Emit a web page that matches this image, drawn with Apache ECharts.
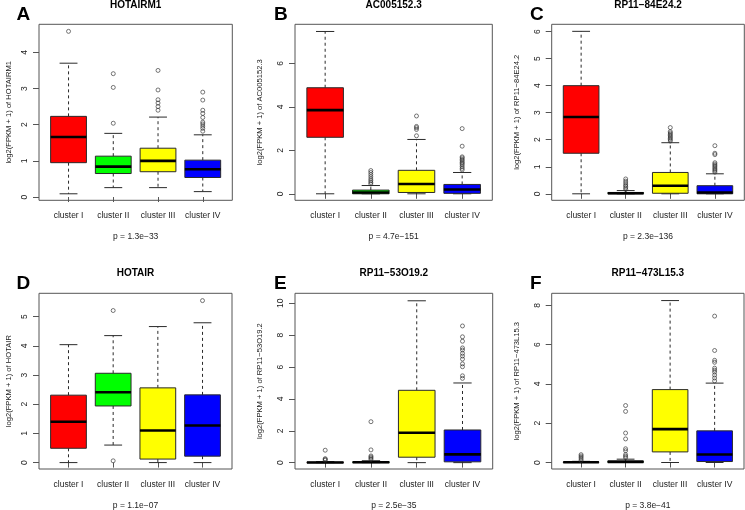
<!DOCTYPE html>
<html><head><meta charset="utf-8">
<script src="https://cdn.jsdelivr.net/npm/echarts@6/dist/echarts.min.js"></script>
<style>html,body{margin:0;padding:0;background:#fff}#c{width:745px;height:510px}</style>
</head><body><div id="c"></div>
<script>
// ---- data ----
const categories = ['cluster I', 'cluster II', 'cluster III', 'cluster IV'];
const geneNames = ['HOTAIRM1', 'AC005152.3', 'RP11\u221284E24.2', 'HOTAIR', 'RP11\u221253O19.2', 'RP11\u2212473L15.3'];
const panelLetters = ['A', 'B', 'C', 'D', 'E', 'F'];
const pValues = ['p = 1.3e\u221233', 'p = 4.7e\u2212151', 'p = 2.3e\u2212136', 'p = 1.1e\u221207', 'p = 2.5e\u221235', 'p = 3.8e\u221241'];

// box stats per cluster: [lower whisker, Q1, median, Q3, upper whisker]
const hotairm1Stats = [[0.09, 0.95, 1.66, 2.23, 3.70], [0.26, 0.65, 0.84, 1.13, 1.76], [0.26, 0.70, 1.00, 1.35, 2.21], [0.15, 0.54, 0.77, 1.02, 1.72]];
const hotairm1Outliers = [[4.58], [2.04, 3.03, 3.41], [2.40, 2.50, 2.60, 2.69, 2.96, 3.50], [1.82, 1.90, 1.96, 2.02, 2.07, 2.20, 2.31, 2.40, 2.68, 2.90]];

const ac005152Stats = [[0, 2.60, 3.85, 4.88, 7.47], [0, 0, 0.06, 0.17, 0.38], [0, 0.06, 0.45, 1.08, 2.50], [0, 0.02, 0.20, 0.43, 0.98]];
const ac005152Outliers = [[], [0.45, 0.52, 0.60, 0.68, 0.78, 0.88, 0.98, 1.07], [2.67, 2.96, 3.04, 3.10, 3.58], [1.10, 1.17, 1.25, 1.33, 1.40, 1.45, 1.52, 1.58, 1.65, 1.70, 2.19, 3.00]];

const rp1184e24Stats = [[0, 1.50, 2.84, 4.00, 6.01], [0, 0, 0.02, 0.05, 0.12], [0, 0.02, 0.30, 0.79, 1.89], [0, 0, 0.05, 0.30, 0.74]];
const rp1184e24Outliers = [[], [0.16, 0.22, 0.28, 0.33, 0.40, 0.47, 0.55], [1.95, 2.00, 2.05, 2.10, 2.15, 2.20, 2.25, 2.30, 2.45], [0.80, 0.85, 0.90, 0.95, 1.00, 1.05, 1.10, 1.15, 1.45, 1.50, 1.78]];

const hotairStats = [[0, 0.49, 1.40, 2.31, 4.04], [0.60, 1.94, 2.41, 3.06, 4.35], [0, 0.12, 1.10, 2.56, 4.66], [0, 0.22, 1.27, 2.32, 4.79]];
const hotairOutliers = [[], [0.06, 5.21], [], [5.55]];

const rp1153o19Stats = [[0, 0, 0.01, 0.03, 0.07], [0, 0, 0.02, 0.05, 0.12], [0, 0.34, 1.88, 4.54, 10.16], [0, 0.05, 0.52, 2.05, 5.00]];
const rp1153o19Outliers = [[0.15, 0.20, 0.25, 0.78], [0.20, 0.28, 0.35, 0.42, 0.80, 2.57], [], [5.29, 5.45, 6.02, 6.20, 6.50, 6.69, 6.86, 7.07, 7.20, 7.62, 7.90, 8.58]];

const rp11473l15Stats = [[0, 0, 0.01, 0.03, 0.06], [0, 0, 0.03, 0.08, 0.17], [0, 0.54, 1.70, 3.71, 8.24], [0, 0.05, 0.41, 1.61, 4.04]];
const rp11473l15Outliers = [[0.10, 0.18, 0.26, 0.33, 0.40], [0.25, 0.32, 0.40, 0.60, 0.70, 1.20, 1.50, 2.60, 2.90], [], [4.15, 4.30, 4.45, 4.60, 4.70, 4.80, 5.10, 5.20, 5.70, 7.45]];

// y tick labels per panel
const yTicksA = [0, 1, 2, 3, 4];
const yTicksB = [0, 2, 4, 6];
const yTicksC = [0, 1, 2, 3, 4, 5, 6];
const yTicksD = [0, 1, 2, 3, 4, 5];
const yTicksE = [0, 2, 4, 6, 8, 10];
const yTicksF = [0, 2, 4, 6, 8];
// y axis ranges (R extends data range by 4%)
const yRanges = [[-0.09, 4.775], [-0.30, 7.80], [-0.24, 6.27], [-0.22, 5.80], [-0.40, 10.63], [-0.33, 8.61]];

const allStats = [hotairm1Stats, ac005152Stats, rp1184e24Stats, hotairStats, rp1153o19Stats, rp11473l15Stats];
const allOutliers = [hotairm1Outliers, ac005152Outliers, rp1184e24Outliers, hotairOutliers, rp1153o19Outliers, rp11473l15Outliers];
const allTicks = [yTicksA, yTicksB, yTicksC, yTicksD, yTicksE, yTicksF];

// ---- layout / style ----
const FONT = '"Liberation Sans", Arial, Helvetica, sans-serif';
const boxColors = ['#FF0000', '#00FF00', '#FFFF00', '#0000FF'];
const frames = [
  {left: 39, top: 24.3, width: 193.3, height: 176},
  {left: 295, top: 24.3, width: 197.3, height: 176},
  {left: 551.7, top: 24.3, width: 192.6, height: 176},
  {left: 39, top: 293.3, width: 193, height: 175.7},
  {left: 295, top: 293.3, width: 197.7, height: 175.7},
  {left: 551.7, top: 293.3, width: 192.3, height: 175.7}
];
const nameGaps = [26, 31, 31, 26, 31, 31];

const chart = echarts.init(document.getElementById('c'), null, {renderer: 'canvas'});

function renderBox(params, api) {
  const x = api.value(0);
  const low = api.value(1), q1 = api.value(2), med = api.value(3), q3 = api.value(4), high = api.value(5);
  const ci = api.value(6);
  const cx = api.coord([x, 0])[0];
  const xl = api.coord([x - 0.4, 0])[0], xr = api.coord([x + 0.4, 0])[0];
  const cl = api.coord([x - 0.2, 0])[0], cr = api.coord([x + 0.2, 0])[0];
  const y = v => api.coord([x, v])[1];
  const stroke = '#2a2a2a';
  return {
    type: 'group',
    children: [
      {type: 'line', shape: {x1: cx, y1: y(q3), x2: cx, y2: y(high)}, style: {stroke: stroke, lineWidth: 1, lineDash: [3, 3]}},
      {type: 'line', shape: {x1: cx, y1: y(q1), x2: cx, y2: y(low)}, style: {stroke: stroke, lineWidth: 1, lineDash: [3, 3]}},
      {type: 'line', shape: {x1: cl, y1: y(high), x2: cr, y2: y(high)}, style: {stroke: stroke, lineWidth: 1}},
      {type: 'line', shape: {x1: cl, y1: y(low), x2: cr, y2: y(low)}, style: {stroke: stroke, lineWidth: 1}},
      {type: 'rect', shape: {x: xl, y: y(q3), width: xr - xl, height: Math.max(y(q1) - y(q3), 0.5)}, style: {fill: boxColors[ci], stroke: stroke, lineWidth: 1}},
      {type: 'line', shape: {x1: xl, y1: y(med), x2: xr, y2: y(med)}, style: {stroke: '#000', lineWidth: 2.6}}
    ]
  };
}

const grid = [], xAxis = [], yAxis = [], series = [], graphic = [];
frames.forEach((f, i) => {
  grid.push({left: f.left, top: f.top, width: f.width, height: f.height, show: true, borderColor: '#555', borderWidth: 1, backgroundColor: 'transparent'});
  xAxis.push({
    type: 'value', gridIndex: i, min: 0.34, max: 4.66,
    axisLine: {show: false}, splitLine: {show: false},
    axisTick: {show: true, customValues: [1, 2, 3, 4], length: 5, lineStyle: {color: '#555'}},
    axisLabel: {customValues: [1, 2, 3, 4], formatter: v => categories[Math.round(v) - 1], margin: 11,
      fontSize: 8.5, color: '#222', fontFamily: FONT}
  });
  yAxis.push({
    type: 'value', gridIndex: i, min: yRanges[i][0], max: yRanges[i][1],
    name: 'log2(FPKM + 1) of ' + geneNames[i], nameLocation: 'middle', nameGap: nameGaps[i], nameRotate: 90,
    nameTextStyle: {fontSize: 7.6, color: '#222', fontFamily: FONT},
    axisLine: {show: false}, splitLine: {show: false},
    axisTick: {show: true, customValues: allTicks[i], length: 6, lineStyle: {color: '#555'}},
    axisLabel: {customValues: allTicks[i], rotate: 90, margin: 10, fontSize: 8.5, color: '#222', fontFamily: FONT}
  });
  series.push({
    type: 'custom', xAxisIndex: i, yAxisIndex: i, renderItem: renderBox, silent: true,
    encode: {x: 0, y: [1, 2, 3, 4, 5]},
    data: allStats[i].map((s, k) => [k + 1].concat(s).concat([k]))
  });
  const pts = [];
  allOutliers[i].forEach((arr, k) => arr.forEach(v => pts.push([k + 1, v])));
  series.push({
    type: 'scatter', xAxisIndex: i, yAxisIndex: i, silent: true, symbol: 'circle', symbolSize: 4,
    itemStyle: {color: 'rgba(255,255,255,0)', borderColor: '#2a2a2a', borderWidth: 0.8},
    data: pts
  });
  const cxp = f.left + f.width / 2;
  const topRow = i < 3;
  graphic.push({type: 'text', x: cxp, y: topRow ? 5 : 273.5, silent: true,
    style: {text: geneNames[i], textAlign: 'center', textVerticalAlign: 'middle', font: 'bold 10px ' + FONT, fill: '#000'}});
  graphic.push({type: 'text', x: cxp, y: topRow ? 236.7 : 506, silent: true,
    style: {text: pValues[i], textAlign: 'center', textVerticalAlign: 'middle', font: '8.5px ' + FONT, fill: '#222'}});
  const lx = [16.5, 274, 530][i % 3];
  graphic.push({type: 'text', x: lx, y: topRow ? 15 : 283.7, silent: true,
    style: {text: panelLetters[i], textAlign: 'left', textVerticalAlign: 'middle', font: 'bold 19px ' + FONT, fill: '#000'}});
});

chart.setOption({
  animation: false,
  backgroundColor: '#fff',
  grid: grid, xAxis: xAxis, yAxis: yAxis, series: series, graphic: graphic
});
</script>
</body></html>
